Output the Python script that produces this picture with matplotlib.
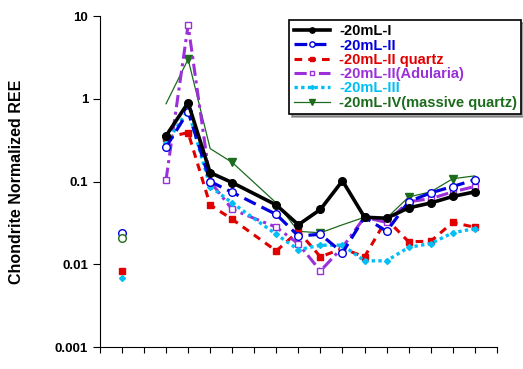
import matplotlib
matplotlib.use('Agg')
import matplotlib.pyplot as plt
import numpy as np

plt.rcParams['font.family'] = ['Liberation Sans', 'DejaVu Sans']
plt.rcParams['font.weight'] = 'bold'

# REE positions on x axis (Pm has no data)
ree = ['La', 'Ce', 'Pr', 'Nd', 'Sm', 'Eu', 'Gd', 'Tb', 'Dy', 'Ho', 'Er', 'Tm', 'Yb', 'Lu']
ree_x = [3, 4, 5, 6, 8, 9, 10, 11, 12, 13, 14, 15, 16, 17]
tick_labels = ['Y', 'La', 'Ce', 'Pr', 'Nd', 'Pm', 'Sm', 'Eu', 'Gd', 'Tb', 'Dy', 'Ho', 'Er', 'Tm', 'Yb', 'Lu']
tick_pos = [1, 3, 4, 5, 6, 7, 8, 9, 10, 11, 12, 13, 14, 15, 16, 17]

s1 = [0.357, 0.895, 0.128, 0.097, 0.052, 0.030, 0.046, 0.102, 0.037, 0.036, 0.048, 0.055, 0.066, 0.075]
s2 = [0.26, 0.70, 0.10, 0.074, 0.040, 0.022, 0.023, 0.0138, 0.037, 0.025, 0.057, 0.073, 0.087, 0.105]
s2q = [0.34, 0.39, 0.052, 0.035, 0.0145, 0.025, 0.0123, 0.0155, 0.0123, 0.035, 0.0187, 0.019, 0.032, 0.028]
s2a = [0.105, 7.8, 0.10, 0.046, 0.028, 0.0177, 0.0083, 0.016, 0.037, 0.032, 0.057, 0.062, 0.075, 0.087]
s3 = [0.29, 0.73, 0.087, 0.055, 0.023, 0.015, 0.017, 0.017, 0.011, 0.011, 0.016, 0.0178, 0.024, 0.027]
s4 = [0.87, 3.0, 0.25, 0.17, 0.055, 0.025, 0.024, 0.030, 0.037, 0.036, 0.065, 0.075, 0.108, 0.117]

# Y values
y_s2 = 0.024
y_s4 = 0.021
y_s2q = 0.0083
y_s3 = 0.0068

fig = plt.figure(figsize=(5.23, 3.69), dpi=100)
ax = fig.add_axes([0.191, 0.0596, 0.759, 0.897])

ax.plot(ree_x, s1, color='black', lw=2.6, marker='o', ms=5.5, label='-20mL-I', zorder=5)
ax.plot(ree_x, s2, color='#0000dd', lw=2.3, ls=(0, (4, 2)), marker='o', ms=5.5, mfc='white', mew=1,
        label='-20mL-II', zorder=4)
ax.plot(ree_x, s2q, color='#e00000', lw=2.2, ls=(0, (2.5, 2)), marker='s', ms=5, label='-20mL-II quartz', zorder=3)
ax.plot(ree_x, s2a, color='#9b30d9', lw=2.2, ls=(0, (4, 1.5, 1, 1.5)), marker='s', ms=5, mfc='white', mew=1,
        label='-20mL-II(Adularia)', zorder=3)
ax.plot(ree_x, s3, color='#00bff5', lw=2.4, ls=(0, (1, 1)), marker='D', ms=3, label='-20mL-III', zorder=3)
ax.plot(ree_x, s4, color='#1d6b1d', lw=0.9, marker='v', ms=6, markevery=[1, 3, 6, 10, 12],
        label='-20mL-IV(massive quartz)', zorder=2)

ax.plot([1], [y_s2], ls='none', marker='o', ms=5.5, mfc='white', mec='#0000dd', mew=1)
ax.plot([1], [y_s4], ls='none', marker='o', ms=5.5, mfc='white', mec='#1d6b1d', mew=1)
ax.plot([1], [y_s2q], ls='none', marker='s', ms=5, color='#e00000')
ax.plot([1], [y_s3], ls='none', marker='D', ms=3, color='#00bff5')

ax.set_yscale('log')
ax.set_ylim(0.001, 10)
ax.set_xlim(0, 18)
ax.set_yticks([0.001, 0.01, 0.1, 1, 10])
ax.set_yticklabels(['0.001', '0.01', '0.1', '1', '10'], fontsize=9.5, fontweight='bold')
ax.yaxis.set_minor_locator(matplotlib.ticker.NullLocator())
ax.set_xticks(range(0, 19))
ax.set_xticklabels([''] * 19)
ax.set_xticks(tick_pos, minor=True)
ax.set_xticklabels(tick_labels, minor=True, fontsize=9.5, fontweight='bold')
ax.tick_params(axis='x', which='minor', length=0, pad=6)
ax.tick_params(axis='x', which='major', length=4, direction='out')
ax.tick_params(axis='y', length=5, direction='out')
ax.spines['top'].set_visible(False)
ax.spines['right'].set_visible(False)
ax.set_ylabel('Chondrite Normalized REE', fontsize=11.5, fontweight='bold', labelpad=22)

leg = ax.legend(loc='upper right', bbox_to_anchor=(0.997, 0.946), bbox_transform=fig.transFigure,
                fontsize=10.5, handlelength=2.5, handletextpad=0.6, borderpad=0.3, labelspacing=0.02,
                markerscale=0.7, borderaxespad=0,
                fancybox=False, shadow=True, framealpha=1, edgecolor='black')
leg.get_frame().set_linewidth(1.2)
for t, h in zip(leg.get_texts(), leg.legend_handles):
    t.set_color(h.get_color())
    t.set_fontweight('bold')

fig.savefig('out.png', dpi=100)
